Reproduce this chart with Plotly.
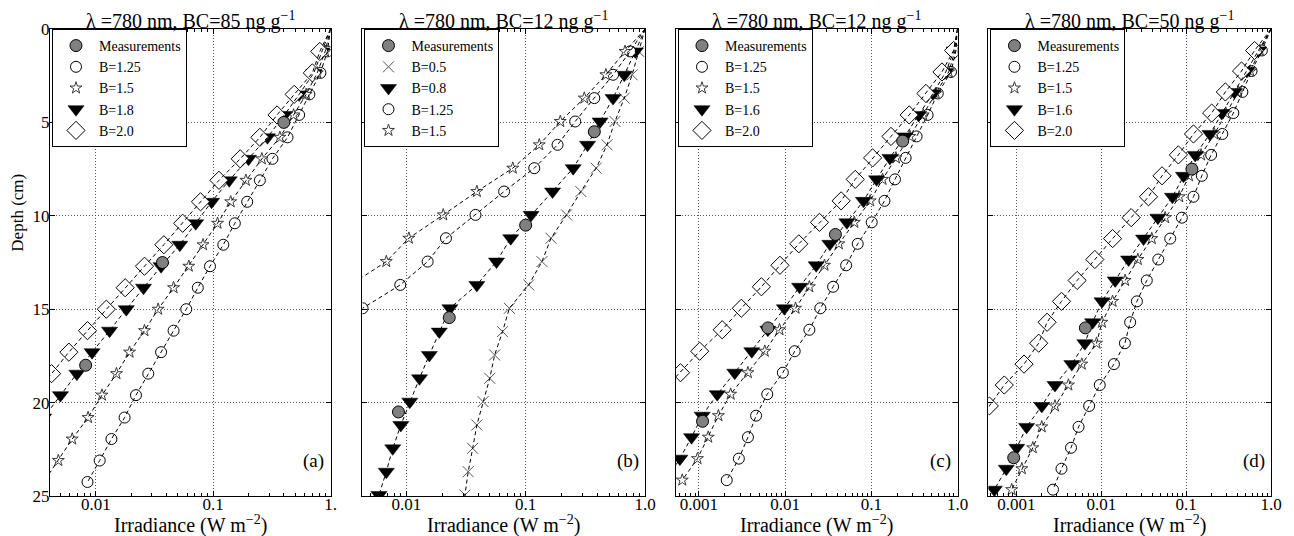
import plotly.graph_objects as go

FONT = "Liberation Serif, Times New Roman, Times, serif"

# ---------------- data ----------------
titles = ["λ =780 nm, BC=85 ng g<sup>−1</sup>", "λ =780 nm, BC=12 ng g<sup>−1</sup>",
          "λ =780 nm, BC=12 ng g<sup>−1</sup>", "λ =780 nm, BC=50 ng g<sup>−1</sup>"]
panel_labels = ["(a)", "(b)", "(c)", "(d)"]
surface_irr = 1.0

# panel (a)
depth_a = [0, 1.2, 2.35, 3.5, 4.6, 5.8, 6.95, 8.1, 9.25, 10.4, 11.55, 12.7, 13.85, 15.0,
           16.15, 17.3, 18.45, 19.6, 20.8, 21.95, 23.1, 24.25]
a_meas_depth = [5.0, 12.5, 18.0]
a_meas_irr = [0.40, 0.037, 0.0082]
a_b125 = [0.94, 0.82, 0.66, 0.54, 0.43, 0.32, 0.25, 0.195, 0.153, 0.122, 0.094, 0.074, 0.059,
          0.046, 0.036, 0.028, 0.022, 0.0176, 0.0136, 0.0108, 0.0085]
a_b15 = [0.90, 0.77, 0.62, 0.485, 0.37, 0.26, 0.19, 0.141, 0.109, 0.082, 0.062, 0.046, 0.034,
         0.026, 0.0194, 0.0150, 0.0113, 0.0086, 0.0063, 0.0048, 0.0036]
a_b18 = [0.845, 0.72, 0.54, 0.405, 0.29, 0.20, 0.137, 0.097, 0.071, 0.052, 0.036, 0.0255,
         0.0182, 0.0131, 0.0093, 0.0069, 0.0050, 0.0036]
a_b20 = [0.81, 0.70, 0.49, 0.35, 0.25, 0.17, 0.112, 0.078, 0.055, 0.038, 0.026, 0.0178,
         0.0123, 0.0085, 0.0059, 0.0042, 0.0030]

# panel (b)
depth_b = [0, 1.2, 2.45, 3.7, 4.95, 6.2, 7.45, 8.7, 9.95, 11.2, 12.45, 13.7, 14.95, 16.2,
           17.45, 18.7, 19.95, 21.2, 22.45, 23.7, 24.95]
b_meas_depth = [5.5, 10.5, 15.45, 20.5]
b_meas_irr = [0.376, 0.10, 0.0229, 0.0086]
b_b05 = [0.885, 0.78, 0.67, 0.56, 0.48, 0.39, 0.29, 0.22, 0.163, 0.137, 0.106, 0.073, 0.064,
         0.055, 0.050, 0.044, 0.039, 0.036, 0.033, 0.031]
b_b08 = [0.83, 0.67, 0.54, 0.42, 0.33, 0.25, 0.168, 0.111, 0.075, 0.057, 0.039, 0.0232,
         0.0189, 0.0156, 0.0129, 0.0107, 0.0090, 0.0077, 0.0068, 0.0059]
b_b125 = [0.75, 0.54, 0.376, 0.26, 0.185, 0.118, 0.066, 0.038, 0.0215, 0.0151, 0.0089,
          0.0043, 0.0020]
b_b15 = [0.68, 0.47, 0.31, 0.195, 0.130, 0.078, 0.039, 0.0204, 0.0105, 0.0068, 0.0034, 0.0015]

# panel (c)
depth_c = [0, 1.15, 2.3, 3.45, 4.6, 5.75, 6.9, 8.05, 9.2, 10.35, 11.5, 12.65, 13.8, 14.95,
           16.1, 17.25, 18.4, 19.55, 20.7, 21.85, 23.0, 24.15]
c_meas_depth = [6.0, 11.0, 16.0, 21.0]
c_meas_irr = [0.231, 0.0383, 0.0063, 0.0011]
c_b125 = [0.96, 0.84, 0.59, 0.45, 0.335, 0.25, 0.188, 0.142, 0.101, 0.0695, 0.051, 0.036,
          0.0256, 0.0191, 0.0129, 0.0094, 0.0062, 0.0046, 0.0037, 0.0029, 0.0021]
c_b15 = [0.94, 0.79, 0.56, 0.40, 0.28, 0.193, 0.135, 0.097, 0.0635, 0.042, 0.0286, 0.0191,
         0.0132, 0.0086, 0.0058, 0.0037, 0.00233, 0.00168, 0.00128, 0.00096, 0.00064]
c_b16 = [0.914, 0.73, 0.52, 0.353, 0.245, 0.164, 0.115, 0.081, 0.052, 0.033, 0.0229, 0.0147,
         0.0098, 0.0063, 0.0041, 0.0026, 0.00163, 0.00109, 0.00082, 0.00060, 0.00042]
c_b20 = [0.90, 0.66, 0.43, 0.275, 0.169, 0.1035, 0.065, 0.0446, 0.025, 0.0144, 0.0087, 0.0053,
         0.0031, 0.00186, 0.00102, 0.00061, 0.00035]

# panel (d)
depth_d = [0, 1.15, 2.25, 3.37, 4.5, 5.62, 6.74, 7.86, 8.98, 10.1, 11.22, 12.34, 13.46, 14.58,
           15.7, 16.82, 17.94, 19.06, 20.18, 21.3, 22.42, 23.54, 24.66]
d_meas_depth = [7.5, 16.0, 22.95]
d_meas_irr = [0.117, 0.0065, 0.00093]
d_b125 = [0.78, 0.59, 0.46, 0.36, 0.267, 0.197, 0.153, 0.122, 0.089, 0.065, 0.047, 0.0344,
          0.0263, 0.0219, 0.0190, 0.0141, 0.0096, 0.0072, 0.0054, 0.0044, 0.0034, 0.0027]
d_b15 = [0.74, 0.57, 0.41, 0.293, 0.215, 0.150, 0.108, 0.083, 0.0566, 0.0394, 0.027, 0.0191,
         0.0136, 0.0102, 0.0088, 0.0059, 0.0041, 0.00285, 0.00199, 0.00156, 0.00116, 0.00088]
d_b16 = [0.71, 0.52, 0.37, 0.263, 0.191, 0.128, 0.093, 0.069, 0.0465, 0.0315, 0.021, 0.0146,
         0.0102, 0.0079, 0.0064, 0.0045, 0.00285, 0.00199, 0.00132, 0.00101, 0.00076, 0.00055]
d_b20 = [0.64, 0.45, 0.29, 0.20, 0.122, 0.081, 0.052, 0.036, 0.0225, 0.0136, 0.0084, 0.0052,
         0.0034, 0.0023, 0.00183, 0.00123, 0.00072, 0.00048, 0.0003]

x_ticks_a = [0.01, 0.1, 1.0]
x_ticktext_a = ["0.01", "0.1", "1."]
x_ticks_b = [0.01, 0.1, 1.0]
x_ticktext_b = ["0.01", "0.1", "1.0"]
x_ticks_cd = [0.001, 0.01, 0.1, 1.0]
x_ticktext_cd = ["0.001", "0.01", "0.1", "1.0"]
y_ticks = [0, 5, 10, 15, 20, 25]

panels = [
    dict(depth=depth_a, meas=(a_meas_depth, a_meas_irr),
         series=[("B=1.25", "circle", a_b125), ("B=1.5", "star", a_b15),
                 ("B=1.8", "tri", a_b18), ("B=2.0", "diamond", a_b20)],
         xr=[-2.39, 0.0], tv=x_ticks_a, tt=x_ticktext_a),
    dict(depth=depth_b, meas=(b_meas_depth, b_meas_irr),
         series=[("B=0.5", "cross", b_b05), ("B=0.8", "tri", b_b08),
                 ("B=1.25", "circle", b_b125), ("B=1.5", "star", b_b15)],
         xr=[-2.367, 0.0], tv=x_ticks_b, tt=x_ticktext_b),
    dict(depth=depth_c, meas=(c_meas_depth, c_meas_irr),
         series=[("B=1.25", "circle", c_b125), ("B=1.5", "star", c_b15),
                 ("B=1.6", "tri", c_b16), ("B=2.0", "diamond", c_b20)],
         xr=[-3.267, 0.0], tv=x_ticks_cd, tt=x_ticktext_cd),
    dict(depth=depth_d, meas=(d_meas_depth, d_meas_irr),
         series=[("B=1.25", "circle", d_b125), ("B=1.5", "star", d_b15),
                 ("B=1.6", "tri", d_b16), ("B=2.0", "diamond", d_b20)],
         xr=[-3.329, 0.0], tv=x_ticks_cd, tt=x_ticktext_cd),
]

# ---------------- styles / layout ----------------
STYLES = {
    "circle": dict(symbol="circle", size=11, color="white", line=dict(color="black", width=1)),
    "star": dict(symbol="star", size=9, color="white", line=dict(color="#3a3a3a", width=1)),
    "tri": dict(symbol="triangle-down", size=14, color="black", line=dict(color="black", width=0.5)),
    "diamond": dict(symbol="diamond", size=14, color="white", line=dict(color="black", width=1)),
    "cross": dict(symbol="x-thin-open", size=11, color="#555555", line=dict(color="#555555", width=1)),
}
MEAS_STYLE = dict(symbol="circle", size=12, color="#808080", line=dict(color="black", width=1))

# the page body has an 8px margin, so the figure is drawn 8px right and down
OFF = 8
W, H = 1294 - OFF, 536 - OFF
PLOT_L, PLOT_R, PLOT_T, PLOT_B = 50, 1273, 28, 496   # screen pixels
ML, MR = PLOT_L - OFF, W - (PLOT_R - OFF)
MT, MB = PLOT_T - OFF, H - (PLOT_B - OFF)
PW = PLOT_R - PLOT_L
PH = PLOT_B - PLOT_T
panel_px = [(50, 331), (363, 646), (677, 959), (990, 1273)]


def fx(sx):
    return (sx - PLOT_L) / PW


def fy(sy):
    return (PLOT_B - sy) / PH


fig = go.Figure()
annotations = []

for i, p in enumerate(panels):
    n = i + 1
    xa = "x" if n == 1 else f"x{n}"
    ya = "y" if n == 1 else f"y{n}"
    lg = "legend" if n == 1 else f"legend{n}"
    depth = p["depth"]
    for j, (name, kind, vals) in enumerate(p["series"]):
        fig.add_trace(go.Scatter(
            x=vals, y=depth[1:len(vals) + 1], mode="markers", name=name,
            marker=STYLES[kind], xaxis=xa, yaxis=ya, legend=lg, legendrank=2 + j,
            cliponaxis=True, hoverinfo="skip"))
    for name, kind, vals in p["series"]:
        fig.add_trace(go.Scatter(
            x=[surface_irr] + vals, y=depth[:len(vals) + 1], mode="lines",
            line=dict(color="black", width=1, dash="4px,3px"),
            xaxis=xa, yaxis=ya, showlegend=False, hoverinfo="skip"))
    md, mi = p["meas"]
    fig.add_trace(go.Scatter(
        x=mi, y=md, mode="markers", name="Measurements", marker=MEAS_STYLE,
        xaxis=xa, yaxis=ya, legend=lg, legendrank=1, hoverinfo="skip"))

    x0, x1 = panel_px[i]
    dom = [fx(x0), fx(x1)]
    minor_vals = [m * 10 ** e for e in range(-4, 1) for m in range(2, 10)]
    xaxis = dict(
        type="log", domain=dom, range=p["xr"], anchor=ya,
        tickvals=p["tv"], ticktext=p["tt"], ticks="inside", ticklen=5, tickcolor="black",
        minor=dict(tickvals=minor_vals, ticks="inside", ticklen=3, tickcolor="black", showgrid=False),
        showline=True, linecolor="black", linewidth=1, mirror="allticks",
        showgrid=True, gridcolor="#555555", griddash="1px,2px", gridwidth=1,
        ticklabelstandoff=-7,
        tickfont=dict(family=FONT, size=17, color="black"), zeroline=False)
    yaxis = dict(
        domain=[0, 1], range=[25, 0], anchor=xa, tickvals=y_ticks,
        showticklabels=(n == 1), ticks="inside", ticklen=5, tickcolor="black",
        showline=True, linecolor="black", linewidth=1, mirror="allticks",
        showgrid=True, gridcolor="#555555", griddash="1px,2px", gridwidth=1,
        ticklabelstandoff=-4,
        tickfont=dict(family=FONT, size=17, color="black"), zeroline=False)
    fig.update_layout(**{("xaxis" if n == 1 else f"xaxis{n}"): xaxis,
                         ("yaxis" if n == 1 else f"yaxis{n}"): yaxis})

    fig.update_layout(**{lg: dict(
        x=fx(x0 + 2), y=fy(28), xanchor="left", yanchor="top",
        bgcolor="white", bordercolor="black", borderwidth=1,
        font=dict(family=FONT, size=14, color="black"),
        tracegroupgap=0, itemwidth=36)})

    cx = fx((x0 + x1) / 2)
    annotations.append(dict(text=titles[i], x=cx, y=fy(19), xref="paper", yref="paper",
                            xanchor="center", yanchor="middle", showarrow=False,
                            font=dict(family=FONT, size=20, color="black")))
    annotations.append(dict(text="Irradiance (W m<sup>−2</sup>)", x=cx, y=fy(525),
                            xref="paper", yref="paper", xanchor="center", yanchor="middle",
                            showarrow=False, font=dict(family=FONT, size=20, color="black")))
    annotations.append(dict(text=panel_labels[i], x=fx(x1 - 17), y=fy(461), xref="paper",
                            yref="paper", xanchor="center", yanchor="middle", showarrow=False,
                            font=dict(family=FONT, size=19, color="black")))

annotations.append(dict(text="Depth (cm)", x=fx(18), y=fy(212), xref="paper", yref="paper",
                        xanchor="center", yanchor="middle", textangle=-90, showarrow=False,
                        font=dict(family=FONT, size=17, color="black")))

fig.update_layout(
    width=W, height=H, margin=dict(l=ML, r=MR, t=MT, b=MB, pad=0),
    paper_bgcolor="white", plot_bgcolor="white", annotations=annotations,
    font=dict(family=FONT, color="black"))

fig.write_html("out.html")
